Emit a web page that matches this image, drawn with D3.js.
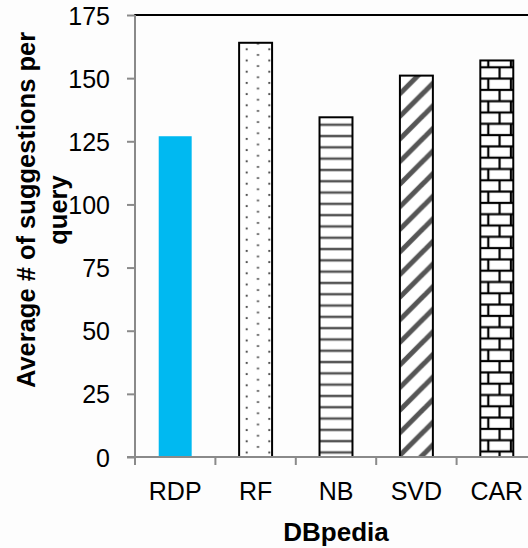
<!DOCTYPE html>
<html>
<head>
<meta charset="utf-8">
<script src="https://cdn.jsdelivr.net/npm/d3@7/dist/d3.min.js"></script>
<style>
  html, body { margin: 0; padding: 0; background: #fdfdfd; }
  svg { display: block; font-family: "Liberation Sans", Arial, sans-serif; }
</style>
</head>
<body>
<svg id="chart" width="528" height="548"></svg>
<script>
// Average number of suggestions per query on DBpedia, per method
const methods = ["RDP", "RF", "NB", "SVD", "CAR"];
const suggestions = [127, 164, 134.5, 151, 157];
const yTicks = [0, 25, 50, 75, 100, 125, 150, 175];
const xTitle = "DBpedia";
const yTitleLines = ["Average # of suggestions per", "query"];

const svg = d3.select("#chart");
const W = 528, H = 548;
const plot = { left: 135, right: 537, top: 15, bottom: 457 };

const x = d3.scaleBand()
  .domain(methods)
  .range([plot.left, plot.right])
  .paddingInner(0.59)
  .paddingOuter(0.295);
const step = x.step();

const y = d3.scaleLinear().domain([0, 175]).range([plot.bottom, plot.top]);

// ---- fill patterns -------------------------------------------------------
const defs = svg.append("defs");

// dotted fill
const dots = defs.append("pattern").attr("id", "pat-dots")
  .attr("patternUnits", "userSpaceOnUse")
  .attr("x", 246.7).attr("y", 49.3)
  .attr("width", 22.6).attr("height", 11.2);
dots.append("rect").attr("width", 22.6).attr("height", 11.2).attr("fill", "#fff");
[[0, 0], [11.3, 5.6], [22.6, 0], [0, 11.2], [22.6, 11.2]].forEach(([px, py]) => {
  dots.append("rect").attr("x", px - 1).attr("y", py - 1)
    .attr("width", 2).attr("height", 2).attr("fill", "#555");
});

// horizontal lines
const hlines = defs.append("pattern").attr("id", "pat-hlines")
  .attr("patternUnits", "userSpaceOnUse")
  .attr("x", 0).attr("y", 124.7)
  .attr("width", 10).attr("height", 11.3);
hlines.append("rect").attr("width", 10).attr("height", 11.3).attr("fill", "#fff");
hlines.append("rect").attr("x", 0).attr("y", -1.2).attr("width", 10).attr("height", 2.5).attr("fill", "#555");
hlines.append("rect").attr("x", 0).attr("y", 10.1).attr("width", 10).attr("height", 2.5).attr("fill", "#555");

// wide upward diagonal stripes
const diag = defs.append("pattern").attr("id", "pat-diag")
  .attr("patternUnits", "userSpaceOnUse")
  .attr("x", 401).attr("y", 70)
  .attr("width", 22.6).attr("height", 22.6);
diag.append("rect").attr("width", 22.6).attr("height", 22.6).attr("fill", "#fff");
[[-22.6], [0], [22.6]].forEach(([o]) => {
  diag.append("line")
    .attr("x1", o - 2).attr("y1", 24.6).attr("x2", o + 24.6).attr("y2", -2)
    .attr("stroke", "#555").attr("stroke-width", 5);
});

// brick fill
const brick = defs.append("pattern").attr("id", "pat-brick")
  .attr("patternUnits", "userSpaceOnUse")
  .attr("x", 488.3).attr("y", 67.3)
  .attr("width", 22.6).attr("height", 22.6);
brick.append("rect").attr("width", 22.6).attr("height", 22.6).attr("fill", "#fff");
const bl = (x1, y1, x2, y2) => brick.append("line")
  .attr("x1", x1).attr("y1", y1).attr("x2", x2).attr("y2", y2)
  .attr("stroke", "#000").attr("stroke-width", 2.2);
bl(0, 0, 22.6, 0);
bl(0, 11.3, 22.6, 11.3);
bl(0, 22.6, 22.6, 22.6);
bl(11.3, 0, 11.3, 11.3);
bl(0, 11.3, 0, 22.6);
bl(22.6, 11.3, 22.6, 22.6);

const fills = {
  RDP: { fill: "#00b9f1", stroke: "none" },
  RF: { fill: "url(#pat-dots)", stroke: "#000" },
  NB: { fill: "url(#pat-hlines)", stroke: "#000" },
  SVD: { fill: "url(#pat-diag)", stroke: "#000" },
  CAR: { fill: "url(#pat-brick)", stroke: "#000" }
};

// ---- plot area frame ----------------------------------------------------
svg.append("rect")
  .attr("x", plot.left).attr("y", plot.top)
  .attr("width", plot.right - plot.left + 10)
  .attr("height", plot.bottom - plot.top)
  .attr("fill", "none").attr("stroke", "#000").attr("stroke-width", 2);

// ---- bars ---------------------------------------------------------------
const data = methods.map((m, i) => ({ m, v: suggestions[i] }));
svg.append("g").selectAll("rect.bar").data(data).join("rect")
  .attr("class", "bar")
  .attr("x", d => x(d.m))
  .attr("y", d => y(d.v))
  .attr("width", x.bandwidth())
  .attr("height", d => y(0) - y(d.v))
  .attr("fill", d => fills[d.m].fill)
  .attr("stroke", d => fills[d.m].stroke)
  .attr("stroke-width", 2);

// ---- axes ---------------------------------------------------------------
const axisColor = "#8a8a8a";

// y axis
const yAxis = svg.append("g").attr("transform", `translate(${plot.left},0)`)
  .call(d3.axisLeft(y).tickValues(yTicks).tickSize(8).tickPadding(17));
yAxis.select(".domain").attr("stroke", axisColor).attr("stroke-width", 2)
  .attr("d", `M0,${plot.top}V${plot.bottom}`);
yAxis.selectAll(".tick line").attr("stroke", axisColor).attr("stroke-width", 2);
yAxis.selectAll(".tick text")
  .attr("font-size", 25).attr("fill", "#000")
  .attr("font-family", "Liberation Sans, Arial, sans-serif")
  .attr("dy", "0.36em");

// x axis: line plus category-boundary ticks
const xg = svg.append("g");
xg.append("line")
  .attr("x1", plot.left - 8).attr("x2", W + 5)
  .attr("y1", y(0)).attr("y2", y(0))
  .attr("stroke", axisColor).attr("stroke-width", 2);
const boundaries = methods.map(m => x(m) + x.bandwidth() / 2 - step / 2);
xg.selectAll("line.xt").data(boundaries).join("line")
  .attr("class", "xt")
  .attr("x1", d => d).attr("x2", d => d)
  .attr("y1", y(0)).attr("y2", y(0) + 8)
  .attr("stroke", axisColor).attr("stroke-width", 2);
xg.selectAll("text.cat").data(methods).join("text")
  .attr("class", "cat")
  .attr("x", d => x(d) + x.bandwidth() / 2)
  .attr("y", 500)
  .attr("text-anchor", "middle")
  .attr("font-size", 25).attr("fill", "#000")
  .text(d => d);

// axis titles
svg.append("text")
  .attr("x", (plot.left + plot.right) / 2)
  .attr("y", 541)
  .attr("text-anchor", "middle")
  .attr("font-size", 26).attr("font-weight", "bold").attr("fill", "#000")
  .text(xTitle);

const yt = svg.append("text")
  .attr("transform", "translate(35,210) rotate(-90)")
  .attr("text-anchor", "middle")
  .attr("font-size", 25.5).attr("font-weight", "bold").attr("fill", "#000");
yt.selectAll("tspan").data(yTitleLines).join("tspan")
  .attr("x", 0).attr("y", (d, i) => i * 32)
  .text(d => d);
</script>
</body>
</html>
